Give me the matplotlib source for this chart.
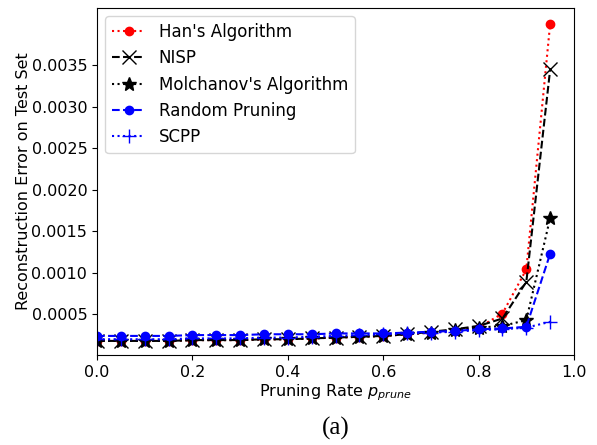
import matplotlib
matplotlib.use("Agg")
import matplotlib.pyplot as plt

# pruning rates 0.00 ... 0.95
rates = [0.00, 0.05, 0.10, 0.15, 0.20, 0.25, 0.30, 0.35, 0.40, 0.45,
         0.50, 0.55, 0.60, 0.65, 0.70, 0.75, 0.80, 0.85, 0.90, 0.95]

han = [0.00018, 0.00018, 0.00018, 0.00018, 0.00019, 0.00019, 0.00019, 0.00020, 0.00020, 0.00021,
       0.00022, 0.00023, 0.00024, 0.00026, 0.00028, 0.00030, 0.00034, 0.00051, 0.00104, 0.00400]
nisp = [0.00018, 0.00018, 0.00018, 0.00018, 0.00019, 0.00019, 0.00019, 0.00020, 0.00020, 0.00021,
        0.00022, 0.00023, 0.00024, 0.00026, 0.00029, 0.00032, 0.00036, 0.00045, 0.00089, 0.00345]
molchanov = [0.00018, 0.00018, 0.00018, 0.00018, 0.00019, 0.00019, 0.00019, 0.00020, 0.00020, 0.00021,
             0.00022, 0.00023, 0.00024, 0.00026, 0.00028, 0.00031, 0.00034, 0.00036, 0.00043, 0.00166]
random_pruning = [0.00024, 0.00024, 0.00024, 0.00024, 0.00025, 0.00025, 0.00025, 0.00026, 0.00026, 0.00026,
                  0.00027, 0.00027, 0.00027, 0.00028, 0.00029, 0.00030, 0.00032, 0.00033, 0.00035, 0.00123]
scpp = [0.00020, 0.00020, 0.00020, 0.00020, 0.00021, 0.00021, 0.00021, 0.00022, 0.00022, 0.00023,
        0.00024, 0.00025, 0.00026, 0.00027, 0.00028, 0.00029, 0.00031, 0.00032, 0.00034, 0.00041]

plt.rcParams["font.size"] = 11.5

fig = plt.figure(figsize=(5.97, 4.45), dpi=100)
ax = fig.add_axes([0.1625, 0.2022, 0.799, 0.780])

ax.plot(rates, han, "r:", marker="o", markersize=6, linewidth=1.5, label="Han's Algorithm")
ax.plot(rates, nisp, "k--", marker="x", markersize=10, linewidth=1.5, label="NISP")
ax.plot(rates, molchanov, "k:", marker="*", markersize=10, linewidth=1.5, label="Molchanov's Algorithm")
ax.plot(rates, random_pruning, "b--", marker="o", markersize=6, linewidth=1.5, label="Random Pruning")
ax.plot(rates, scpp, "b:", marker="+", markersize=10, linewidth=1.5, label="SCPP")

ax.set_xlim(0.0, 1.0)
ax.set_ylim(0.00001, 0.00419)
ax.set_yticks([0.0005, 0.0010, 0.0015, 0.0020, 0.0025, 0.0030, 0.0035])
ax.tick_params(labelsize=11.5)

ax.set_xlabel("Pruning Rate $p_{prune}$", labelpad=2)
ax.set_ylabel("Reconstruction Error on Test Set", labelpad=0)
ax.legend(loc="upper left", fontsize=12)

fig.text(0.5625, 0.038, "(a)", ha="center", va="center",
         family="Liberation Serif", fontsize=18)

fig.savefig("out.png", dpi=100)
